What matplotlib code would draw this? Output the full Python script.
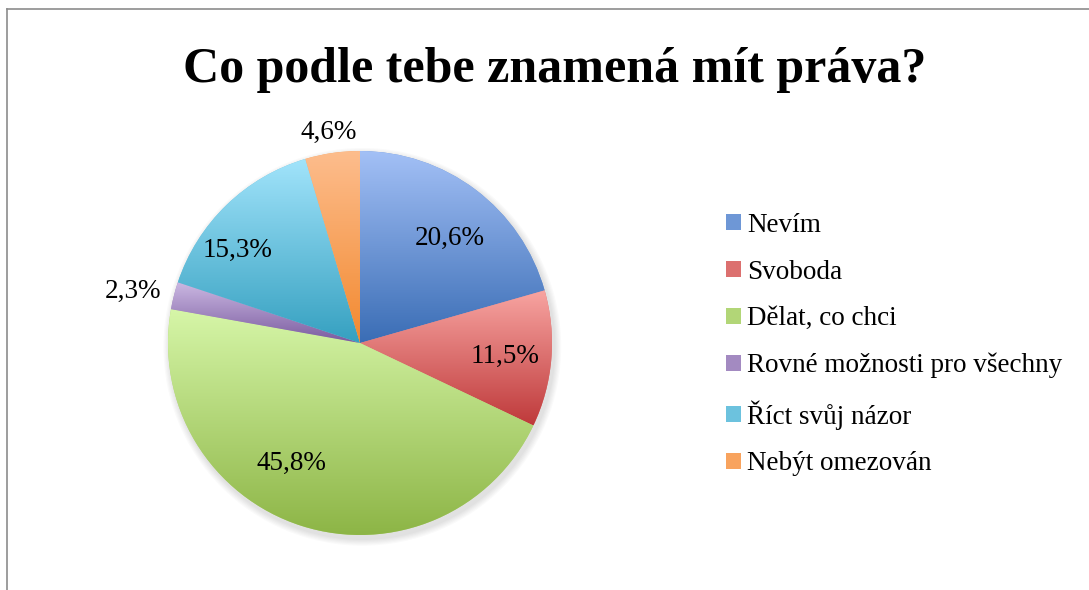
import matplotlib
matplotlib.use("Agg")
import matplotlib.pyplot as plt
from matplotlib.patches import Rectangle, Circle
from matplotlib.lines import Line2D
from matplotlib.colors import to_rgb
import numpy as np

title = "Co podle tebe znamená mít práva?"
categories = ["Nevím", "Svoboda", "Dělat, co chci",
              "Rovné možnosti pro všechny", "Říct svůj názor", "Nebýt omezován"]
shares = [20.6, 11.5, 45.8, 2.3, 15.3, 4.6]
pct_labels = ["20,6%", "11,5%", "45,8%", "2,3%", "15,3%", "4,6%"]

# gradient colours per slice (top, bottom)
tops = ["#a3c0f6", "#f8a5a2", "#d6f6a8", "#cbb8e2", "#a2e4fb", "#fdbd8d"]
bottoms = ["#3a6db5", "#bf3a3b", "#8db546", "#7a5b9f", "#35a0c0", "#f2892f"]

# label placement (fraction of radius, angle shift in degrees)
lab_dist = [0.72, 0.76, 0.72, 1.21, 0.80, 1.11]
lab_shift = [-3.5, -0.6, -11.7, 1.5, 8.8, 0.2]

W, H = 1089, 590
fig = plt.figure(figsize=(W / 100, H / 100), dpi=100)
fig.patch.set_facecolor("white")

serif = ["Liberation Serif", "DejaVu Serif"]

# pie axes: centre (360, 343) px, radius 192 px
cx, cy, R = 360, 343, 192
half = 210
ax = fig.add_axes([(cx - half) / W, 1 - (cy + half) / H, 2 * half / W, 2 * half / H])
lim = half / R

mids = [tuple((np.array(to_rgb(a)) + np.array(to_rgb(b))) / 2) for a, b in zip(tops, bottoms)]

# soft shadow
for k in range(6):
    ax.add_patch(Circle((0.012, -0.02), 1.0 + 0.006 * (6 - k), color="black",
                        alpha=0.018, lw=0, zorder=0))

wedges, _ = ax.pie(shares, startangle=90, counterclock=False, colors=mids,
                   wedgeprops=dict(linewidth=0, zorder=1))

for w, top, bot in zip(wedges, tops, bottoms):
    ext = w.get_path().get_extents()
    t = np.linspace(0, 1, 256)[:, None, None]
    grad = (1 - t) * np.array(to_rgb(top)) + t * np.array(to_rgb(bot))
    im = ax.imshow(grad, extent=[ext.x0, ext.x1, ext.y0, ext.y1], origin="upper",
                   aspect="auto", interpolation="bilinear", zorder=2)
    im.set_clip_path(w)

for w, lab, d, s in zip(wedges, pct_labels, lab_dist, lab_shift):
    ang = np.deg2rad((w.theta1 + w.theta2) / 2 + s)
    ax.text(d * np.cos(ang), d * np.sin(ang), lab, ha="center", va="center",
            fontsize=19.5, family=serif, color="black", zorder=5)

ax.set_xlim(-lim, lim)
ax.set_ylim(-lim, lim)
ax.set_aspect("equal")
ax.axis("off")

fig.text(555 / W, 1 - 70 / H, title, ha="center", va="center",
         fontsize=36, fontweight="bold", family=serif)

handles = [Rectangle((0, 0), 1, 1, facecolor=c, edgecolor="none") for c in mids]
fig.legend(handles, categories, loc="upper left",
           bbox_to_anchor=(726 / W, 1 - 213 / H), frameon=False,
           prop=dict(family=serif, size=19.5), handlelength=0.54, handleheight=0.54,
           handletextpad=0.25, labelspacing=0.8, borderpad=0, borderaxespad=0)

# chart frame (left and top edges visible)
fig.add_artist(Line2D([7 / W, 7 / W], [0, 1 - 9 / H], color="#8c8c8c", lw=1.2))
fig.add_artist(Line2D([7 / W, 1], [1 - 9 / H, 1 - 9 / H], color="#8c8c8c", lw=1.2))

fig.savefig("out.png", dpi=100, facecolor="white")
